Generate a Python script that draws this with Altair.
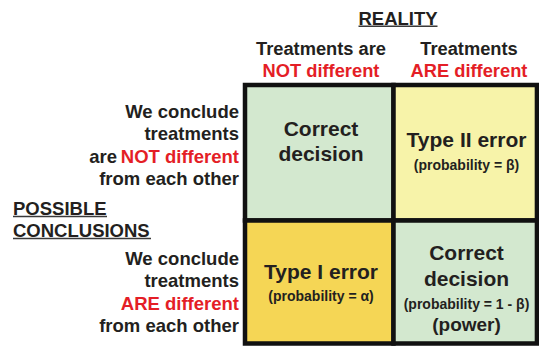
import altair as alt
import pandas as pd

# ---------------- data ----------------
# 2x2 decision grid (column = reality, row = conclusion)
cell_col = [0, 1, 0, 1]
cell_row = [0, 0, 1, 1]
cell_fill = ["#d3e8cf", "#f7f3a9", "#f5d655", "#d3e8cf"]

# column header labels (reality)
top_title = "REALITY"
col_head_line1 = ["Treatments are", "Treatments"]
col_head_line2 = ["NOT different", "ARE different"]

# row labels (possible conclusions)
side_title = ["POSSIBLE", "CONCLUSIONS"]
row_lines = [
    ["We conclude", "treatments", "NOT different", "from each other"],
    ["We conclude", "treatments", "ARE different", "from each other"],
]
row_prefix = "are"

# cell texts
cell_titles = [["Correct", "decision"], ["Type II error"], ["Type I error"], ["Correct", "decision"]]
cell_notes = [[], ["(probability = β)"], ["(probability = α)"], ["(probability = 1 - β)"]]
power_note = "(power)"

# ---------------- layout (data units: one cell ≈ 1x1) ----------------
W, H = 531, 338
XD = [-1.5960, 1.9798]
YD = [-0.5683, 1.9262]
COL_EDGES = [0, 1, 1.966]
ROW_EDGES = [0, 1, 1.908]
FONT = "Liberation Sans"
DARK = "#231f20"
RED = "#e41e26"

xs = alt.Scale(domain=XD, nice=False, zero=False)
ys = alt.Scale(domain=YD, reverse=True, nice=False, zero=False)

cells = pd.DataFrame({
    "x": [COL_EDGES[c] for c in cell_col],
    "x2": [COL_EDGES[c + 1] for c in cell_col],
    "y": [ROW_EDGES[r] for r in cell_row],
    "y2": [ROW_EDGES[r + 1] for r in cell_row],
    "fill": cell_fill,
})

rows = []
def add(label, x, y, size, color, align):
    rows.append(dict(label=label, x=x, y=y, size=size, color=color, align=align))

# title
add(top_title, 1.0303, -0.4465, 18.5, DARK, "center")
# column headers
col_cx = [0.5118, 1.5084]
for i in range(2):
    add(col_head_line1[i], col_cx[i], -0.2214, 18.3, DARK, "center")
    add(col_head_line2[i], col_cx[i], -0.0590, 18.3, RED, "center")

# row labels
row_base = [[0.2435, 0.4059, 0.5756, 0.7380], [1.3284, 1.4908, 1.6605, 1.8229]]
for r in range(2):
    for k, line in enumerate(row_lines[r]):
        add(line, -0.0404, row_base[r][k], 18.5, RED if k == 2 else DARK, "right")
add(row_prefix, -0.8620, row_base[0][2], 18.5, DARK, "right")

# side title
add(side_title[0], -1.5623, 0.9594, 18.5, DARK, "left")
add(side_title[1], -1.5623, 1.1218, 18.5, DARK, "left")

# cell texts
cell_cx = [0.5118, 1.4916, 0.5118, 1.4916]
title_base = [[0.3764, 0.5609], [0.4554], [1.4354], [1.2900, 1.4797]]
note_base = [[], [0.6273], [1.5926], [1.6546]]
for i in range(4):
    for t, yb in zip(cell_titles[i], title_base[i]):
        add(t, cell_cx[i], yb, 21, DARK, "center")
    for n, yb in zip(cell_notes[i], note_base[i]):
        add(n, cell_cx[i], yb, 14, DARK, "center")
add(power_note, cell_cx[3], 1.8126, 19, DARK, "center")

texts = pd.DataFrame(rows)

underlines = pd.DataFrame({
    "x": [0.7643, -1.5623, -1.5623],
    "x2": [1.2963, -0.9293, -0.6330],
    "y": [-0.4332, 0.9705, 1.1328],
})

# ---------------- chart ----------------
rect = alt.Chart(cells).mark_rect(stroke="#111111", strokeWidth=4.5).encode(
    x=alt.X("x:Q", scale=xs, axis=None),
    x2="x2:Q",
    y=alt.Y("y:Q", scale=ys, axis=None),
    y2="y2:Q",
    fill=alt.Fill("fill:N", scale=None),
)

def text_layer(align):
    sub = texts[texts["align"] == align]
    return alt.Chart(sub).mark_text(
        align=align, baseline="alphabetic", font=FONT, fontWeight="bold"
    ).encode(
        x=alt.X("x:Q", scale=xs, axis=None),
        y=alt.Y("y:Q", scale=ys, axis=None),
        text="label:N",
        size=alt.Size("size:Q", scale=None),
        color=alt.Color("color:N", scale=None),
    )

lines = alt.Chart(underlines).mark_rule(color="#3a3a3a", strokeWidth=1.6).encode(
    x=alt.X("x:Q", scale=xs, axis=None),
    x2="x2:Q",
    y=alt.Y("y:Q", scale=ys, axis=None),
)

chart = alt.layer(
    rect, lines, text_layer("center"), text_layer("right"), text_layer("left"),
).properties(
    width=W, height=H, autosize=alt.AutoSizeParams(type="none"), padding=0,
    background="white",
).configure_view(stroke=None)

chart.save("out.html", embed_options={"renderer": "svg", "actions": False})
